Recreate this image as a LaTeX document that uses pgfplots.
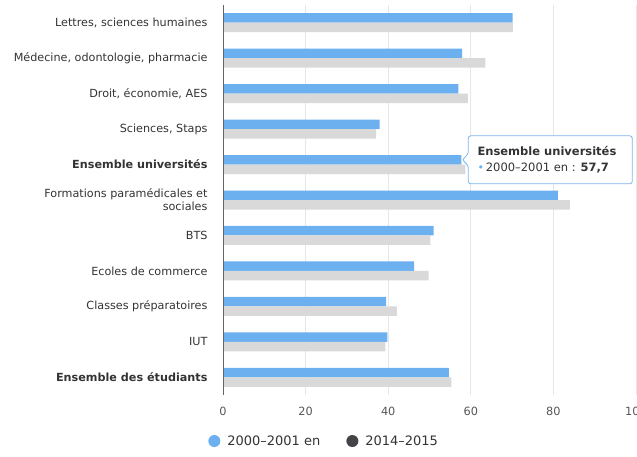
\documentclass[border=0pt]{standalone}
\usepackage{pgfplots}
\pgfplotsset{compat=1.18}
\usepackage{fontspec}
\setmainfont{DejaVu Sans}
\definecolor{cblue}{HTML}{6CB0F0}
\definecolor{cgray}{HTML}{D9D9D9}
\definecolor{cdark}{HTML}{434348}
\definecolor{gridc}{HTML}{E6E6E6}
\definecolor{labc}{HTML}{333333}
\definecolor{tickc}{HTML}{555555}
\definecolor{tipb}{HTML}{7CB5EC}
\begin{document}
\begin{tikzpicture}[x=1pt,y=1pt]
\useasboundingbox (0,0) rectangle (637,456);
\begin{axis}[
  at={(223pt,61pt)}, anchor=south west,
  scale only axis, width=413pt, height=390pt,
  xmin=0, xmax=100, ymin=-0.5, ymax=10.5,
  xtick={0,20,40,60,80,100},
  ytick={0,...,10},
  yticklabels={{\bfseries Ensemble des étudiants},IUT,Classes préparatoires,Ecoles de commerce,BTS,{Formations paramédicales et\\sociales},{\bfseries Ensemble universités},{Sciences, Staps},{Droit, économie, AES},{Médecine, odontologie, pharmacie},{Lettres, sciences humaines}},
  yticklabel style={font=\fontsize{11.2}{13}\selectfont, text=labc, align=right, xshift=-12pt},
  xticklabel style={font=\fontsize{11.3}{13}\selectfont, text=tickc, yshift=-9pt},
  /pgf/number format/assume math mode=true,
  major tick length=0pt,
  xmajorgrids, grid style={draw=gridc, line width=0.8pt},
  axis line style={draw=none},
  xbar, bar width=9.5pt,
  legend style={at={(rel axis cs:0.245,-0.118)}, anchor=center, draw=none, legend columns=2,
    font=\fontsize{13}{15}\selectfont, text=labc,
    /tikz/every even column/.append style={column sep=24pt},
    /tikz/every odd column/.append style={column sep=0pt}},
  legend cell align=left,
]
\addplot[draw=none, fill=cblue, bar shift=4.75pt,
  legend image code/.code={\fill[cblue] (0pt,0pt) circle (6pt); \path (11pt,0pt);}]
  coordinates {(54.7,0) (39.8,1) (39.5,2) (46.3,3) (51.0,4) (81.1,5) (57.7,6) (37.9,7) (57.0,8) (57.9,9) (70.1,10)};
\addlegendentry{2000–2001 en}
\addplot[draw=none, fill=cgray, bar shift=-4.75pt,
  legend image code/.code={\fill[cdark] (0pt,0pt) circle (6pt); \path (11pt,0pt);}]
  coordinates {(55.3,0) (39.3,1) (42.1,2) (49.8,3) (50.2,4) (84.0,5) (58.7,6) (37.1,7) (59.3,8) (63.5,9) (70.2,10)};
\addlegendentry{2014–2015}
\draw[draw=gray!80!black, line width=0.8pt] (rel axis cs:0,0) -- (rel axis cs:0,1);
% tooltip
\draw[draw=tipb, fill=white, line width=0.8pt, rounded corners=2.5pt]
  (axis cs:57.7,6) ++(1pt,4.75pt) -- ++(6pt,6pt) -- ++(0pt,18pt) -- ++(164pt,0pt) -- ++(0pt,-48pt) -- ++(-164pt,0pt) -- ++(0pt,18pt) -- cycle;
\node[anchor=west, align=left, font=\fontsize{11.5}{16.6}\selectfont, text=labc, inner sep=0pt]
  at (axis cs:57.7,6) [xshift=16pt, yshift=4.75pt]
  {\bfseries Ensemble universités\\{\color{cblue}\fontsize{11}{8}\selectfont•}\,2000–2001 en : \textbf{57,7}};
\end{axis}
\end{tikzpicture}
\end{document}
